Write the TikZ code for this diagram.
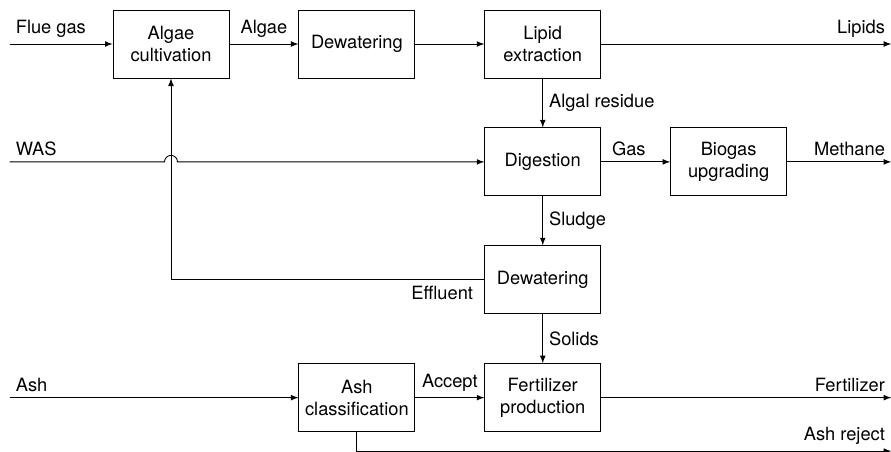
\documentclass[tikz,border=0pt]{standalone}
\usepackage{fontspec}
\setmainfont{TeX Gyre Heros}
\usetikzlibrary{positioning,calc}

\begin{document}
\begin{tikzpicture}[>=latex,node distance=0.98cm and 1.38cm,line width=0.5pt,
  font=\fontsize{10.4}{12.5}\selectfont,
  unit/.style={draw,rectangle,minimum width=2.32cm,minimum height=1.36cm,align=center,inner sep=2pt}]

\node[unit] (cult) {Algae\\cultivation};
\node[unit] (dew1) [right=of cult] {Dewatering};
\node[unit] (lipid) [right=of dew1] {Lipid\\extraction};
\node[unit] (dig) [below=of lipid] {Digestion};
\node[unit] (upg) [right=of dig] {Biogas\\upgrading};
\node[unit] (dew2) [below=of dig] {Dewatering};
\node[unit] (fert) [below=of dew2] {Fertilizer\\production};
\node[unit] (ashc) [left=of fert] {Ash\\classification};

\useasboundingbox ($(cult)+(-3.42,0.88)$) rectangle ($(cult)+(14.4,-8.14)$);

% feeds and products
\coordinate[left=2.06cm of cult] (flue);
\coordinate (was) at (flue |- dig);
\coordinate (ash) at (flue |- ashc);
\coordinate[right=5.8cm of lipid] (lipids);
\coordinate (methane) at (lipids |- upg);
\coordinate (fertout) at (lipids |- fert);
\coordinate[below=0.38cm of ashc] (rejbend);
\coordinate (rejout) at (lipids |- rejbend);
\coordinate (hop) at (cult |- dig);

\path[->]
(flue) edge node[above right,pos=0] {Flue gas} (cult)
(cult) edge node[above] {Algae} (dew1)
(dew1) edge (lipid)
(lipid) edge node[above left,pos=1] {Lipids} (lipids)
(lipid) edge node[right] {Algal residue} (dig)
(dig) edge node[above,pos=0.4] {Gas} (upg)
(upg) edge node[above left,pos=1] {Methane} (methane)
(dig) edge node[right] {Sludge} (dew2)
(dew2) edge node[right] {Solids} (fert)
(ash) edge node[above right,pos=0] {Ash} (ashc)
(ashc) edge node[above] {Accept} (fert)
(fert) edge node[above left,pos=1] {Fertilizer} (fertout);

\draw[->] (was) -- node[above right,pos=0] {WAS} ($(hop)+(-0.13,0)$)
  arc[start angle=180,end angle=0,radius=0.13] -- (dig);

\draw[->] (dew2) -- node[below left,pos=0,xshift=-0.1cm] {Effluent} (cult |- dew2) -- (cult);

\draw[->] (ashc) -- (rejbend) -- node[above left,pos=1] {Ash reject} (rejout);

\end{tikzpicture}
\end{document}
